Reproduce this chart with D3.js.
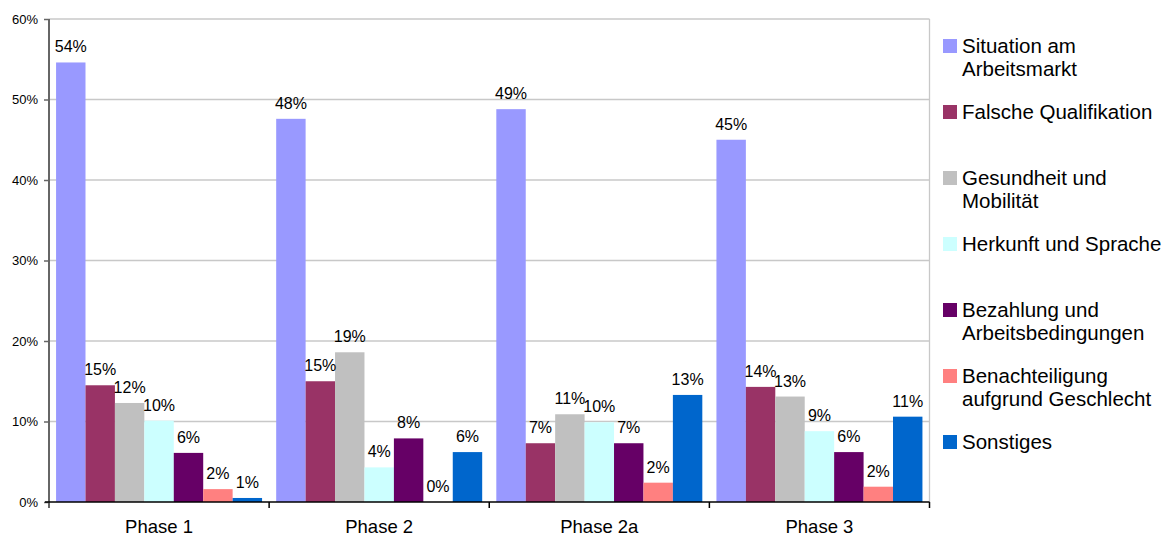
<!DOCTYPE html>
<html>
<head>
<meta charset="utf-8">
<script src="https://cdn.jsdelivr.net/npm/d3@7"></script>
<style>
html,body{margin:0;padding:0;background:#fff;}
svg{display:block;font-family:"Liberation Sans",Arial,Helvetica,sans-serif;}
</style>
</head>
<body>
<svg id="chart" width="1168" height="538"></svg>
<script>
// ---- data ----
const categories = ["Phase 1", "Phase 2", "Phase 2a", "Phase 3"];
const seriesNames = [
  "Situation am Arbeitsmarkt",
  "Falsche Qualifikation",
  "Gesundheit und Mobilität",
  "Herkunft und Sprache",
  "Bezahlung und Arbeitsbedingungen",
  "Benachteiligung aufgrund Geschlecht",
  "Sonstiges"
];
const legendLines = [
  ["Situation am", "Arbeitsmarkt"],
  ["Falsche Qualifikation"],
  ["Gesundheit und", "Mobilität"],
  ["Herkunft und Sprache"],
  ["Bezahlung und", "Arbeitsbedingungen"],
  ["Benachteiligung", "aufgrund Geschlecht"],
  ["Sonstiges"]
];
const seriesColors = ["#9999FF", "#993366", "#C0C0C0", "#CCFFFF", "#660066", "#FF8080", "#0066CC"];
// values per series (in %), one per category
const situation     = [54.6, 47.6, 48.8, 45.0];
const qualifikation = [14.5, 15.0, 7.3, 14.3];
const gesundheit    = [12.3, 18.6, 10.9, 13.1];
const herkunft      = [10.1, 4.3, 9.9, 8.8];
const bezahlung     = [6.1, 7.9, 7.3, 6.2];
const benachteil    = [1.6, 0.0, 2.4, 1.9];
const sonstiges     = [0.5, 6.2, 13.3, 10.6];
// printed labels per series
const situationLbl     = ["54%", "48%", "49%", "45%"];
const qualifikationLbl = ["15%", "15%", "7%", "14%"];
const gesundheitLbl    = ["12%", "19%", "11%", "13%"];
const herkunftLbl      = ["10%", "4%", "10%", "9%"];
const bezahlungLbl     = ["6%", "8%", "7%", "6%"];
const benachteilLbl    = ["2%", "0%", "2%", "2%"];
const sonstigesLbl     = ["1%", "6%", "13%", "11%"];
const yTicks = [0, 10, 20, 30, 40, 50, 60];

const seriesValues = [situation, qualifikation, gesundheit, herkunft, bezahlung, benachteil, sonstiges];
const seriesLabels = [situationLbl, qualifikationLbl, gesundheitLbl, herkunftLbl, bezahlungLbl, benachteilLbl, sonstigesLbl];

// ---- layout ----
const svg = d3.select("#chart");
const plotL = 49, plotR = 929.5, plotT = 19, plotB = 502;

const x0 = d3.scaleBand().domain(categories).range([plotL, plotR]).paddingInner(0).paddingOuter(0);
const x1 = d3.scaleBand().domain(d3.range(seriesNames.length)).range([0, x0.bandwidth()])
  .paddingInner(0).paddingOuter(0.24);
const y = d3.scaleLinear().domain([0, 60]).range([plotB, plotT]);

// gridlines
svg.append("g").selectAll("line").data(yTicks.filter(d => d > 0)).join("line")
  .attr("x1", plotL).attr("x2", plotR)
  .attr("y1", d => y(d)).attr("y2", d => y(d))
  .attr("stroke", "#C8C8C8").attr("stroke-width", 1.3);
// right border
svg.append("line").attr("x1", plotR).attr("x2", plotR).attr("y1", plotT).attr("y2", plotB)
  .attr("stroke", "#C8C8C8").attr("stroke-width", 1.3);

// bars
const groups = svg.append("g").selectAll("g").data(categories).join("g")
  .attr("transform", c => `translate(${x0(c)},0)`);
groups.each(function(c, ci) {
  const g = d3.select(this);
  seriesNames.forEach((s, si) => {
    const v = seriesValues[si][ci];
    g.append("rect")
      .attr("x", x1(si)).attr("width", x1.bandwidth())
      .attr("y", y(v)).attr("height", y(0) - y(v))
      .attr("fill", seriesColors[si]);
  });
  seriesNames.forEach((s, si) => {
    const v = seriesValues[si][ci];
    g.append("text")
      .attr("x", x1(si) + x1.bandwidth() / 2)
      .attr("y", y(v) - 10)
      .attr("text-anchor", "middle")
      .attr("font-size", "16px").attr("fill", "#000")
      .text(seriesLabels[si][ci]);
  });
});

// y axis
const yAxis = d3.axisLeft(y).tickValues(yTicks).tickFormat(d => d + "%").tickSize(5).tickPadding(6);
const yg = svg.append("g").attr("transform", `translate(${plotL},0)`).call(yAxis);
yg.select(".domain").attr("d", `M0,${plotT}V${plotB + 6}`).attr("stroke", "#666").attr("stroke-width", 2);
yg.selectAll(".tick line").attr("stroke", "#666").attr("stroke-width", 1.5);
yg.selectAll(".tick text").attr("font-size", "13px").attr("fill", "#000")
  .attr("font-family", "'Liberation Sans',Arial,sans-serif");

// x axis
const xg = svg.append("g");
xg.append("line").attr("x1", plotL - 4).attr("x2", plotR).attr("y1", plotB).attr("y2", plotB)
  .attr("stroke", "#000").attr("stroke-width", 1.5);
const bounds = categories.map(c => x0(c)).concat([plotR]);
xg.selectAll("line.t").data(bounds.slice(1)).join("line").attr("class", "t")
  .attr("x1", d => d).attr("x2", d => d).attr("y1", plotB).attr("y2", plotB + 6)
  .attr("stroke", "#000").attr("stroke-width", 1.5);
xg.selectAll("text").data(categories).join("text")
  .attr("x", c => x0(c) + x0.bandwidth() / 2).attr("y", 533)
  .attr("text-anchor", "middle").attr("font-size", "18.5px").attr("fill", "#000")
  .text(c => c);

// legend
const lg = svg.append("g");
legendLines.forEach((lines, i) => {
  const by = 53 + i * 66;
  lg.append("rect").attr("x", 943).attr("y", by - 14).attr("width", 14).attr("height", 14)
    .attr("fill", seriesColors[i]);
  const t = lg.append("text").attr("x", 962).attr("y", by).attr("font-size", "20.5px").attr("fill", "#000");
  lines.forEach((ln, k) => {
    t.append("tspan").attr("x", 962).attr("y", by + k * 23).text(ln);
  });
});
</script>
</body>
</html>
